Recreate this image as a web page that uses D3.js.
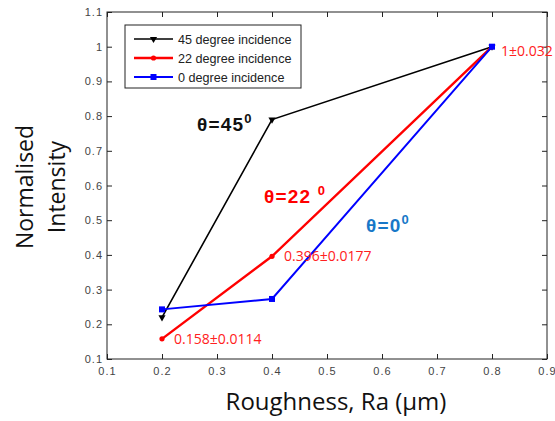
<!DOCTYPE html>
<html>
<head>
<meta charset="UTF-8">
<script src="https://cdnjs.cloudflare.com/ajax/libs/d3/7.8.5/d3.min.js"></script>
<style>
  body { margin: 0; background: #fff; }
  svg { display: block; }
  .tick text { font-family: Arial, "Liberation Sans", sans-serif; font-size: 11px; letter-spacing: 1px; fill: #444; }
</style>
</head>
<body>
<svg width="555" height="421"></svg>
<script>
// data
const roughness = [0.2, 0.4, 0.8];
const deg45 = [0.22, 0.79, 1.0];
const deg22 = [0.158, 0.396, 1.0];
const deg0 = [0.243, 0.273, 1.0];
const seriesNames = ["45 degree incidence", "22 degree incidence", "0 degree incidence"];
const xTicks = [0.1, 0.2, 0.3, 0.4, 0.5, 0.6, 0.7, 0.8, 0.9];
const yTicks = [0.1, 0.2, 0.3, 0.4, 0.5, 0.6, 0.7, 0.8, 0.9, 1, 1.1];
const valueLabels = [
    { x: 0.8, y: 1.0, text: "1±0.032", dx: 9, dy: 9 },
    { x: 0.4, y: 0.396, text: "0.396±0.0177", dx: 12, dy: 5 },
    { x: 0.2, y: 0.158, text: "0.158±0.0114", dx: 12, dy: 5 }
];

const svg = d3.select("svg");
const mLeft = 107, mRight = 547, mTop = 12, mBottom = 359;

const x = d3.scaleLinear().domain([0.1, 0.9]).range([mLeft, mRight]);
const y = d3.scaleLinear().domain([0.1, 1.1]).range([mBottom, mTop]);

// frame
svg.append("rect")
    .attr("x", mLeft).attr("y", mTop)
    .attr("width", mRight - mLeft).attr("height", mBottom - mTop)
    .attr("fill", "none").attr("stroke", "#222").attr("stroke-width", 1);

// axes with inward ticks
const fmt = d => String(+d.toFixed(1));
svg.append("g").attr("transform", `translate(0,${mBottom})`)
    .call(d3.axisBottom(x).tickValues(xTicks).tickSizeInner(-5).tickSizeOuter(0).tickPadding(8).tickFormat(fmt))
    .call(g => g.select(".domain").remove());
svg.append("g").attr("transform", `translate(0,${mTop})`)
    .call(d3.axisTop(x).tickValues(xTicks).tickSizeInner(-5).tickSizeOuter(0).tickFormat(""))
    .call(g => g.select(".domain").remove());
svg.append("g").attr("transform", `translate(${mLeft},0)`)
    .call(d3.axisLeft(y).tickValues(yTicks).tickSizeInner(-5).tickSizeOuter(0).tickPadding(4).tickFormat(fmt))
    .call(g => g.select(".domain").remove());
svg.append("g").attr("transform", `translate(${mRight},0)`)
    .call(d3.axisRight(y).tickValues(yTicks).tickSizeInner(-5).tickSizeOuter(0).tickFormat(""))
    .call(g => g.select(".domain").remove());
svg.selectAll(".tick line").attr("stroke", "#222");

const series = [
    { name: seriesNames[0], values: deg45, color: "#000", width: 1.6, marker: "tri" },
    { name: seriesNames[1], values: deg22, color: "#ff0000", width: 2.4, marker: "dot" },
    { name: seriesNames[2], values: deg0, color: "#0000ff", width: 2, marker: "sq" }
];

const line = d3.line().x(d => x(d[0])).y(d => y(d[1]));

function drawMarker(g, cx, cy, s) {
    if (s.marker === "sq") {
        g.append("rect").attr("x", cx - 3).attr("y", cy - 3).attr("width", 6).attr("height", 6).attr("fill", s.color);
    } else if (s.marker === "dot") {
        g.append("circle").attr("cx", cx).attr("cy", cy).attr("r", 2.6).attr("fill", s.color);
    } else {
        g.append("path").attr("d", d3.symbol(d3.symbolTriangle, 22)()).attr("transform", `translate(${cx},${cy}) rotate(180)`).attr("fill", s.color);
    }
}

series.forEach(s => {
    const pts = roughness.map((r, i) => [r, s.values[i]]);
    svg.append("path").datum(pts)
        .attr("d", line).attr("fill", "none")
        .attr("stroke", s.color).attr("stroke-width", s.width);
    const g = svg.append("g");
    pts.forEach(p => drawMarker(g, x(p[0]), y(p[1]), s));
});

// legend
const lg = svg.append("g");
lg.append("rect").attr("x", 125).attr("y", 25).attr("width", 176).attr("height", 63)
    .attr("fill", "#fff").attr("stroke", "#222").attr("stroke-width", 1);
series.forEach((s, i) => {
    const ly = 39 + i * 19;
    lg.append("line").attr("x1", 134).attr("x2", 173).attr("y1", ly).attr("y2", ly)
        .attr("stroke", s.color).attr("stroke-width", s.width);
    drawMarker(lg, 153.5, ly, s);
    lg.append("text").attr("x", 178).attr("y", ly + 4.5)
        .attr("font-family", "Arial, 'Liberation Sans', sans-serif").attr("font-size", 12.6)
        .attr("fill", "#222").text(s.name);
});

// value labels
valueLabels.forEach(v => {
    svg.append("text").attr("x", x(v.x) + v.dx).attr("y", y(v.y) + v.dy)
        .attr("font-family", "'Open Sans', sans-serif").attr("font-size", 14)
        .attr("fill", "#ff2020").text(v.text);
});

// angle annotations
function angleLabel(px, py, base, sup, color, weight) {
    const t = svg.append("text").attr("x", px).attr("y", py)
        .attr("font-family", "Arial, 'Liberation Sans', sans-serif").attr("font-weight", weight)
        .attr("font-size", 19).attr("letter-spacing", 1.2).attr("fill", color);
    t.append("tspan").text(base);
    t.append("tspan").attr("dy", -8).attr("font-size", 13).text(sup);
}
angleLabel(197, 131, "θ=45", "0", "#111", "bold");
angleLabel(264, 203, "θ=22 ", "0", "#ff0000", "bold");
angleLabel(366, 232, "θ=0", "0", "#1878c8", "bold");

// axis titles
svg.append("text").attr("x", 336).attr("y", 410).attr("text-anchor", "middle")
    .attr("font-family", "'Open Sans', sans-serif").attr("font-size", 24).attr("fill", "#111")
    .text("Roughness, Ra (μm)");
const yl = svg.append("text").attr("transform", "translate(0,187) rotate(-90)")
    .attr("text-anchor", "middle")
    .attr("font-family", "'Open Sans', sans-serif").attr("font-size", 23).attr("fill", "#111");
yl.append("tspan").attr("x", 0).attr("y", 33).text("Normalised");
yl.append("tspan").attr("x", 0).attr("y", 65).text("Intensity");
</script>
</body>
</html>
